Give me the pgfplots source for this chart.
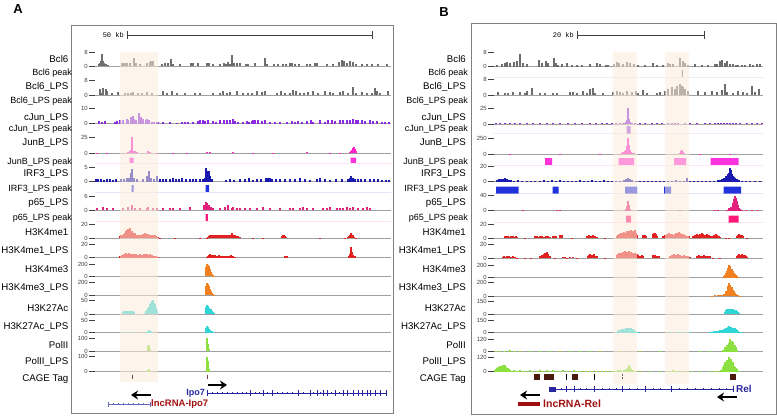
\documentclass[border=0pt]{standalone}
\usepackage{fontspec}
\setmainfont{Liberation Sans}
\setmonofont{Liberation Mono}
\usepackage{pgfplots}
\pgfplotsset{compat=1.18}
\usetikzlibrary{arrows.meta}

\definecolor{cbcl}{HTML}{6E6E6E}
\definecolor{cjun}{HTML}{8A2BE0}
\definecolor{cjunb}{HTML}{FF22CC}
\definecolor{cirf}{HTML}{1A1AB0}
\definecolor{cp65}{HTML}{E0207A}
\definecolor{cme1}{HTML}{E32020}
\definecolor{cme3}{HTML}{F08020}
\definecolor{cac}{HTML}{30D5D5}
\definecolor{cpol}{HTML}{8CE040}
\definecolor{pkjunb}{HTML}{FF33DD}
\definecolor{pkirf}{HTML}{2233DD}
\definecolor{pkp65}{HTML}{FF1A7A}
\definecolor{pkjun}{HTML}{9955DD}
\definecolor{genblue}{HTML}{2626A0}
\definecolor{lncred}{HTML}{A01010}
\definecolor{cage}{HTML}{4A1A10}
\definecolor{shade}{HTML}{FCECDC}
\definecolor{frame}{HTML}{808080}

\pgfplotsset{
  trk/.style={scale only axis, anchor=south west, ymin=0,
    axis x line=bottom, axis y line=left, axis line style={-},
    y axis line style={draw=none},
    x axis line style={draw=gray!75, line width=0.8pt},
    xtick=\empty, scaled y ticks=false,
    tick align=outside, major tick length=6pt,
    ytick style={draw=black!75, line width=1pt},
    yticklabel style={font=\fontsize{6}{6}\selectfont, text=black!75, inner sep=1pt},
    /pgf/number format/assume math mode=true},
  trkA/.style={trk, xmin=95, xmax=391, width=296pt},
  trkB/.style={trk, xmin=494, xmax=763, width=269pt},
}
% #1 x0, #2 style, #3 baseline (px from top), #4 height, #5 ymax, #6 colour, #7 data
\newcommand\trk[7]{%
  \begin{axis}[#2, at={(#1pt,-#3pt)}, height=#4pt, ymax=#5, ytick={0,#5}]
    \addplot[ycomb, draw=#6, line width=1.1pt] coordinates {#7};
  \end{axis}}
% peak boxes: #1 x0, #2 style, #3 bottom, #4 height, #5 colour, #6 steps
\newcommand\pk[6]{%
  \begin{axis}[#2, hide axis, at={(#1pt,-#3pt)}, height=#4pt, ymin=0, ymax=1]
    \addplot[const plot, fill=#5, draw=none] coordinates {#6} \closedcycle;
  \end{axis}}

\begin{document}
\begin{tikzpicture}
\useasboundingbox (0,0) rectangle (777pt,-416pt);

%% ---------------- panel A ----------------
\trk{95}{trkA}{66}{14}{8}{cbcl}{(99,1)(100,1.5)(101,3)(102,7)(103,3)(104,1.5)(106,1)(108,0.5)(122,2)(123,1.5)(125,2)(127,2)(130,1.5)(134,4.5)(135,2)(136,2)(140,1)(147,2)(150,2.5)(151,3)(153,3)(162,1)(165,1.5)(168,2)(171,4)(173,1)(180,1)(191,2)(192,2)(193,2)(198,1.5)(207,2)(208,2)(209,2)(213,1)(220,1)(224,1.5)(226,1)(228,2.5)(230,1)(232,6.5)(234,2)(237,2)(240,1.5)(246,1)(248,1)(255,1.5)(265,4.5)(267,1)(274,1)(278,1)(283,1)(286,1)(290,1.5)(292,1.5)(295,1)(299,1)(307,1)(310,1)(315,1.5)(317,1.5)(327,1)(333,1)(339,2.5)(342,3.5)(344,3)(347,2)(350,3)(353,2.5)(356,1)(362,1)(367,1)(372,1)(378,1)(387,1)}
\trk{95}{trkA}{95}{15}{8}{cbcl}{(100,3)(102,1)(103,3.5)(106,3)(107,2)(112,1)(118,1.5)(125,1)(128,1)(131,1)(133,1.5)(138,1)(142,1)(147,1.5)(152,1)(163,2)(167,1)(172,2)(177,1)(185,1)(195,1)(200,1)(213,1)(220,1)(223,2)(227,1)(230,1.5)(237,2)(243,1)(248,1)(252,1)(257,2)(262,1.5)(265,2)(277,1)(281,2)(285,1)(290,1)(293,2.5)(296,2)(300,1)(304,1)(308,1.5)(313,2)(318,1)(325,2)(330,1.5)(333,1)(340,1.5)(343,2)(348,1)(353,4.5)(356,1)(362,1.5)(367,1)(372,1)(375,4)(377,2)(380,1)(388,2)}
\trk{95}{trkA}{123.5}{15.5}{10}{cjun}{(99,1.5)(102,1)(105,1.5)(115,1)(117,1.5)(120,2)(123,2)(127,3)(128,2)(131,4.5)(133,5)(134,3)(136,2)(139,7)(141,4)(143,3)(146,2.5)(147,3)(149,2)(152,1)(154,1)(157,1)(158,1)(163,1)(170,1)(177,0.5)(182,1)(185,1)(188,1)(193,1)(198,1.5)(200,2)(203,2)(205,1.5)(208,2)(213,1.5)(216,1)(220,2)(224,2)(227,2)(230,2.5)(233,3)(235,1.5)(238,1)(243,1)(247,1.5)(249,1)(252,1.5)(253,2)(255,2.5)(258,2)(262,1.5)(265,2)(270,1)(275,1)(280,1)(287,1)(292,1.5)(295,1)(298,1.5)(302,1)(307,1.5)(311,2)(313,1)(320,2.5)(325,1)(328,2)(332,2)(335,1.5)(340,2)(343,2.5)(347,2)(350,2.5)(353,3)(356,2)(358,2)(362,2)(365,1.5)(370,2)(373,1.5)(377,1.5)(382,1)(385,1)(389,1)}
\trk{95}{trkA}{153.3}{16}{25}{cjunb}{(97,1)(107,1)(128,2)(130,3)(131,5)(132,25)(133,4)(135,3)(137,2)(148,3)(150,2)(157,1)(173,1)(187,1)(207,2)(210,2)(233,1.5)(253,1)(273,1)(307,1.5)(330,1)(340,1)(350,2)(351,3)(352,5)(353,8)(354,10)(355,6)(356,3)}
\trk{95}{trkA}{181.7}{14}{5}{cirf}{(96,0.8)(98,1)(101,1)(104,0.5)(107,1)(110,1)(113,0.5)(116,1)(121,1)(124,1)(127,1.5)(129,1.5)(131,3)(132,4.5)(134,1.5)(137,1)(143,1)(147,2)(149,4)(151,1.5)(154,1)(157,2)(160,1)(163,1)(166,1)(170,1)(173,1.5)(176,1)(179,1)(182,1.5)(186,1)(190,1)(193,1)(196,1)(200,1)(203,1)(205,1.5)(206,5)(207,4)(208,3)(209,4)(210,2)(212,1)(226,0.5)(230,1)(234,0.5)(240,1)(245,1)(249,1.5)(253,0.5)(257,1)(261,1)(266,1.5)(268,1.5)(270,1.5)(272,1)(276,1)(280,1)(285,1)(290,1)(295,1)(300,1.5)(305,1)(310,0.5)(317,1)(320,1.5)(325,1)(330,0.5)(336,1)(342,1)(348,1)(350,1.5)(351,2)(353,1.5)(355,1)(358,1)(361,1)(365,1)(370,1)(374,1)(378,1)(382,0.5)(386,0.5)(389,0.5)}
\trk{95}{trkA}{210}{14}{6}{cp65}{(97,1)(103,1.5)(107,1)(113,1)(123,1)(128,1.5)(132,2)(135,1)(140,1)(147,1)(148,1.5)(153,1)(157,1)(163,1)(170,1)(173,1)(180,1)(190,1.5)(204,2)(206,3.5)(207,3)(209,2)(211,1.5)(213,1)(220,1)(225,1.5)(228,2)(232,1)(233,1.5)(237,1)(240,1)(245,1)(250,1)(257,1)(263,1.5)(270,1)(280,1)(290,1)(293,1)(300,1)(303,1.5)(307,1)(313,1)(323,1)(327,1)(330,1.5)(337,1)(340,1)(343,1)(347,1.5)(350,1)(353,1.5)(358,1)(363,1)(367,1.5)(370,1)}
\trk{95}{trkA}{238.3}{14.3}{20}{cme1}{(120,3)(121,4)(122,5)(123,4)(124,6)(125,8)(126,10)(127,12)(128,13)(129,11)(130,14)(131,9)(132,10)(133,8)(134,6)(135,7)(136,5)(137,4)(138,5)(139,4)(140,3)(141,4)(142,5)(143,6)(144,5)(145,7)(146,6)(147,5)(148,6)(149,4)(150,5)(151,3)(152,4)(153,5)(154,3)(155,4)(156,3)(157,2)(158,1.5)(160,1)(175,0.5)(200,0.5)(207,1)(208,2)(209,3)(210,4)(211,3)(212,4)(213,5)(214,3)(215,4)(216,3)(217,4)(218,3)(219,5)(220,4)(221,3)(222,4)(223,3)(224,4)(225,3)(226,4)(227,3)(228,5)(229,4)(230,3)(231,5)(232,8)(233,5)(234,3)(235,4)(236,3)(237,2)(238,3)(239,2)(240,1.5)(253,1)(263,1)(282,3)(283,4)(284,5)(285,3)(286,2)(320,0.5)(345,1)(348,2)(349,3)(350,5)(351,7)(352,5)(353,4)(354,2)(356,1)}
\trk{95}{trkA}{257.7}{13.7}{20}{cme1}{(120,2)(121,3)(122,4)(123,3)(124,5)(125,6)(126,7)(127,5)(128,6)(129,7)(130,5)(131,6)(132,4)(133,5)(134,6)(135,4)(136,5)(137,4)(138,3)(139,4)(140,5)(141,4)(142,3)(143,4)(144,5)(145,6)(146,4)(147,5)(148,3)(149,4)(150,5)(151,3)(152,4)(153,3)(154,2)(155,3)(156,2)(158,1)(207,1)(208,3)(209,4)(210,5)(211,4)(212,3)(213,4)(214,3)(215,4)(216,3)(217,2)(218,3)(219,4)(220,3)(221,2)(222,3)(223,2)(224,3)(225,2)(226,3)(227,2)(228,3)(229,2)(230,3)(231,4)(232,3)(233,2)(235,1)(285,2)(286,3)(287,2)(349,3)(350,5)(351,15)(352,8)(353,4)(354,3)(355,2)}
\trk{95}{trkA}{276}{12}{200}{cme3}{(206,150)(207,200)(208,190)(209,160)(210,110)(211,70)(212,40)(213,20)(214,8)}
\trk{95}{trkA}{295}{12.3}{200}{cme3}{(206,140)(207,195)(208,180)(209,150)(210,100)(211,60)(212,30)(213,15)(214,5)}
\trk{95}{trkA}{314}{14}{50}{cac}{(123,8)(124,10)(125,12)(126,10)(127,11)(128,12)(129,10)(130,12)(131,11)(132,9)(133,10)(134,6)(145,5)(146,10)(147,15)(148,20)(149,25)(150,35)(151,40)(152,45)(153,50)(154,40)(155,35)(156,20)(157,10)(206,25)(207,33)(208,30)(209,20)(210,15)(211,18)(212,12)(213,8)(214,4)}
\trk{95}{trkA}{332.5}{12.5}{50}{cac}{(122,1)(125,1.5)(130,1)(134,1.5)(147,3)(148,6)(149,10)(150,8)(151,5)(152,3)(206,20)(207,28)(208,22)(209,15)(210,12)(211,8)(212,5)(213,3)}
\trk{95}{trkA}{351}{12.3}{100}{cpol}{(148,40)(149,45)(150,20)(207,110)(208,60)(209,20)}
\trk{95}{trkA}{371.5}{14.8}{100}{cpol}{(148,10)(149,15)(207,100)(208,70)(209,20)}
\pk{95}{trkA}{163}{5.5}{pkjunb}{(95,0)(129.5,1)(133.5,0)(350.5,1)(356,0)(391,0)}
\pk{95}{trkA}{192}{7}{pkirf}{(95,0)(131.5,1)(133.5,0)(205.5,1)(209,0)(391,0)}
\pk{95}{trkA}{221}{7}{pkp65}{(95,0)(205.5,1)(207.8,0)(391,0)}

%% ---------------- panel B ----------------
\trk{494}{trkB}{66.5}{14.3}{8}{cbcl}{(497,1)(502,1.5)(505,2)(507,2.5)(510,2)(514,2.5)(517,3)(520,7)(523,2)(527,1.5)(539,3.5)(542,2)(546,3)(548,2)(554,4.5)(556,2)(558,1)(562,1.5)(567,2)(572,1)(577,1)(582,1)(590,1.5)(597,2)(600,1.5)(606,1)(608,1)(614,1.5)(617,2.5)(619,2)(623,1.5)(627,2.5)(630,2)(634,1.5)(638,1)(645,1)(653,2)(657,1)(663,1)(668,2)(670,1.5)(673,1.5)(680,5)(683,3)(685,2)(688,1)(695,1.5)(702,1)(708,1)(715,1.5)(717,1.5)(720,3)(722,3.5)(725,2)(727,3)(730,1.5)(733,1.5)(736,1)(738,1)(742,1)(745,1)(750,1.5)(753,1)(757,1.5)(760,1.5)}
\trk{494}{trkB}{95}{15.2}{8}{cbcl}{(498,1.5)(505,1)(508,1)(513,1.5)(520,1.5)(525,1)(527,2)(532,3.5)(540,1)(545,1)(553,1)(557,1)(570,1.5)(573,1.5)(577,1)(583,2)(587,1)(590,3)(593,3.5)(595,1)(603,1)(613,1.5)(617,2)(620,1.5)(623,1)(627,2)(632,1.5)(636,2)(638,1)(643,2.5)(647,1)(657,1)(660,1.5)(665,2)(668,3)(672,4)(675,3)(677,4.5)(680,6)(682,5)(683,4)(685,3)(688,2)(698,2)(705,1.5)(712,2)(717,1.5)(722,2.5)(725,6)(727,1.5)(733,1)(738,2)(743,1.5)(747,1)(752,5)(755,1.5)(759,3)}
\trk{494}{trkB}{124}{15.7}{25}{cjun}{(496,1)(500,1.5)(505,1)(510,1.5)(515,1)(520,1)(527,1)(533,1)(540,1)(547,1)(553,1)(560,1)(568,1)(575,1)(582,1.5)(590,1)(596,1)(602,1)(607,1)(612,1.5)(616,1)(620,1)(623,1.5)(625,2)(626,3)(627,6)(628,25)(629,8)(630,3)(632,1.5)(635,2)(640,1)(645,1)(652,1)(657,1)(662,1)(668,1)(672,1.5)(675,1)(678,1)(685,1)(690,1)(697,1)(705,1)(710,1)(715,1.5)(718,1.5)(721,2)(724,1.5)(727,2)(730,1.5)(733,1.5)(736,1)(740,1)(747,1)(752,1)(757,1)(762,1)}
\trk{494}{trkB}{154}{15.7}{250}{cjunb}{(510,3)(560,3)(600,3)(620,5)(622,10)(623,25)(624,15)(625,40)(626,60)(627,120)(628,250)(629,150)(630,60)(631,30)(632,20)(634,10)(680,15)(681,40)(682,60)(683,30)(684,10)(700,3)(730,3)}
\trk{494}{trkB}{181.7}{15}{20}{cirf}{(497,2)(499,3)(501,4)(503,3)(505,5)(507,3)(509,2)(511,2)(514,1)(518,2)(522,1.5)(527,1)(531,1.5)(535,1)(540,1.5)(544,2)(548,1.5)(552,2.5)(556,1.5)(560,2)(564,1)(568,1.5)(572,1)(576,1.5)(580,2)(584,1)(588,1.5)(592,2)(596,1)(600,1.5)(604,2)(608,1.5)(612,1)(616,1)(620,1.5)(624,2)(626,3)(628,5)(630,3)(632,2)(636,1)(640,1)(644,1.5)(648,1)(652,1)(656,1)(660,1.5)(664,1)(668,1.5)(672,1)(676,2)(680,1.5)(684,1)(687,5)(690,1)(694,1)(698,1)(702,1)(706,1)(710,1)(714,1.5)(718,2)(720,2.5)(722,3)(724,5)(726,7)(728,10)(729,12)(730,18)(731,15)(732,10)(733,8)(734,6)(735,5)(736,4)(737,3)(739,2)(742,1.5)(746,1)(750,1)(755,1)(760,1)}
\trk{494}{trkB}{210.7}{15}{40}{cp65}{(523,2)(557,2)(560,2)(626,5)(627,12)(628,25)(629,15)(630,5)(680,2)(715,3)(718,3)(727,3)(729,6)(731,10)(733,20)(734,30)(735,40)(736,35)(737,25)(738,15)(739,8)(740,5)(742,3)(746,2)(752,2)(758,1)}
\trk{494}{trkB}{238.3}{14}{20}{cme1}{(505,3)(506,2)(507,4)(508,3)(509,2)(511,3)(512,4)(513,3)(514,2)(516,3)(517,2)(525,1)(535,3)(536,4)(537,3)(538,2)(540,3)(541,4)(542,3)(544,2)(546,3)(547,4)(548,3)(550,2)(553,3)(555,4)(556,3)(560,5)(561,4)(562,5)(572,1)(587,3)(588,4)(589,5)(590,4)(591,3)(592,4)(593,5)(594,4)(595,3)(597,2)(605,1)(617,4)(618,5)(619,6)(620,5)(621,7)(622,8)(623,6)(624,9)(625,7)(626,8)(627,10)(628,9)(629,11)(630,8)(631,12)(632,9)(633,10)(634,8)(635,12)(636,7)(637,5)(643,5)(644,4)(645,5)(646,4)(653,6)(654,8)(655,7)(656,6)(657,4)(663,3)(664,4)(665,5)(666,4)(667,6)(668,5)(669,7)(670,6)(671,5)(672,6)(673,4)(674,5)(675,6)(676,7)(677,5)(678,8)(679,9)(680,7)(681,6)(682,5)(683,6)(684,4)(685,5)(686,4)(687,3)(688,4)(689,3)(693,3)(694,4)(695,5)(696,4)(697,6)(698,5)(699,4)(700,6)(701,5)(702,8)(703,6)(704,5)(705,4)(706,5)(707,6)(708,4)(709,5)(710,3)(712,4)(714,5)(715,4)(716,6)(717,5)(718,4)(719,3)(720,2)(726,1)(729,1)(737,4)(738,5)(739,6)(740,5)(741,4)(742,5)(743,3)(747,1)}
\trk{494}{trkB}{258.3}{14}{20}{cme1}{(503,2)(504,3)(505,2)(507,3)(508,4)(509,3)(511,2)(513,3)(515,2)(517,1)(525,1)(531,1)(540,3)(541,4)(542,5)(543,4)(544,6)(545,7)(546,8)(547,9)(548,6)(549,4)(550,3)(555,1)(563,2)(565,2)(567,1)(570,2)(573,2)(577,1)(588,4)(589,5)(590,6)(591,5)(592,4)(593,5)(594,6)(595,4)(597,3)(605,1)(617,5)(618,6)(619,7)(620,6)(621,8)(622,7)(623,9)(624,8)(625,10)(626,8)(627,9)(628,7)(629,10)(630,8)(631,9)(632,7)(633,8)(634,6)(635,7)(636,5)(637,6)(638,5)(640,4)(642,5)(643,4)(653,5)(654,4)(655,5)(657,4)(659,3)(670,3)(671,4)(672,5)(673,4)(674,6)(675,5)(676,4)(677,5)(678,6)(679,4)(680,5)(682,4)(684,5)(686,4)(688,3)(690,2)(697,3)(698,4)(699,5)(700,4)(701,3)(702,4)(704,5)(705,4)(707,3)(709,4)(710,3)(713,1)(720,1)(737,4)(738,5)(739,6)(740,5)(741,4)(742,6)(743,5)(744,4)(745,5)(746,3)(747,2)}
\trk{494}{trkB}{277.5}{12.5}{200}{cme3}{(724,20)(725,40)(726,70)(727,100)(728,150)(729,200)(730,180)(731,120)(732,140)(733,100)(734,80)(735,60)(736,40)(737,20)(738,10)}
\trk{494}{trkB}{296}{13.3}{200}{cme3}{(712,5)(715,8)(718,10)(720,8)(722,15)(724,30)(726,80)(728,150)(729,200)(730,170)(731,120)(732,140)(733,90)(734,70)(735,50)(736,30)(737,15)(738,8)(740,5)}
\trk{494}{trkB}{314}{12.3}{150}{cac}{(725,30)(726,50)(727,60)(728,55)(729,65)(730,50)(731,60)(732,55)(733,60)(734,50)(735,40)(736,45)(737,35)(738,20)(739,10)}
\trk{494}{trkB}{332.7}{12.7}{150}{cac}{(617,10)(618,20)(619,30)(620,25)(621,35)(622,40)(623,30)(624,45)(625,35)(626,50)(627,40)(628,55)(629,45)(630,60)(631,50)(632,40)(633,45)(634,30)(635,20)(636,10)(638,5)(670,3)(678,4)(685,3)(690,3)(710,5)(712,10)(714,15)(716,20)(718,25)(720,30)(722,35)(724,40)(726,50)(727,60)(728,70)(729,80)(730,60)(731,70)(732,50)(733,60)(734,45)(735,50)(736,40)(737,30)(738,20)(739,10)(741,5)}
\trk{494}{trkB}{351.7}{12.7}{120}{cpol}{(496,5)(500,10)(505,8)(510,15)(515,8)(520,5)(530,10)(540,5)(550,5)(560,8)(570,5)(580,5)(590,5)(600,5)(620,8)(640,5)(660,5)(680,5)(700,5)(710,8)(723,20)(725,40)(727,60)(728,50)(729,80)(730,120)(731,70)(732,100)(733,90)(734,50)(735,60)(736,40)(737,20)}
\trk{494}{trkB}{371.7}{14.4}{120}{cpol}{(495,15)(496,25)(497,30)(498,40)(499,35)(500,45)(501,50)(502,40)(503,55)(504,45)(505,60)(506,40)(507,35)(508,30)(509,20)(510,15)(512,10)(514,15)(516,10)(518,8)(520,12)(523,8)(526,10)(530,15)(533,8)(537,10)(540,12)(543,8)(547,15)(550,10)(553,12)(557,8)(560,10)(563,12)(567,8)(570,10)(574,12)(577,8)(580,10)(584,6)(588,8)(592,10)(596,6)(600,8)(604,5)(608,6)(612,8)(615,10)(618,15)(620,12)(622,10)(624,15)(626,20)(628,30)(629,60)(630,40)(631,20)(633,15)(635,10)(640,5)(650,5)(660,6)(667,10)(670,8)(673,12)(676,8)(680,10)(684,8)(688,10)(692,5)(700,5)(710,8)(715,10)(718,8)(721,12)(723,40)(724,60)(725,80)(726,50)(727,100)(728,70)(729,120)(730,90)(731,110)(732,60)(733,80)(734,50)(735,40)(736,30)(737,20)(739,10)}
\pk{494}{trkB}{77}{7}{cbcl}{(494,0)(681.8,1)(682.8,0)(763,0)}
\pk{494}{trkB}{133.5}{7.5}{pkjun}{(494,0)(626.5,1)(630.5,0)(763,0)}
\pk{494}{trkB}{165}{7}{pkjunb}{(494,0)(545,1)(552,0)(618.5,1)(634,0)(674,1)(686,0)(710.5,1)(738.5,0)(763,0)}
\pk{494}{trkB}{193.5}{7}{pkirf}{(494,0)(496,1)(518.5,0)(552.5,1)(558.5,0)(625,1)(637,0)(664,1)(671,0)(723.5,1)(741,0)(763,0)}
\pk{494}{trkB}{222.5}{7}{pkp65}{(494,0)(626,1)(631,0)(728.5,1)(738.5,0)(763,0)}

%% ---------------- highlights, CAGE, genes ----------------
\begin{axis}[scale only axis, hide axis, width=777pt, height=416pt,
  at={(0pt,0pt)}, anchor=north west, xmin=0, xmax=777, ymin=0, ymax=416,
  y dir=reverse, clip=false]
  \addplot[fill=shade, draw=none, fill opacity=0.55] coordinates {(120,52)(158,52)(158,382)(120,382)} -- cycle;
  \addplot[fill=shade, draw=none, fill opacity=0.55] coordinates {(613,52)(637,52)(637,384)(613,384)} -- cycle;
  \addplot[fill=shade, draw=none, fill opacity=0.55] coordinates {(665,52)(689,52)(689,384)(665,384)} -- cycle;
  % CAGE tags
  \addplot[only marks, mark=|, mark size=2.3pt, draw=cage!80, mark options={line width=0.8pt}] coordinates {(132,377)(207,377)};
  \addplot[only marks, mark=square*, mark size=2.6pt, cage] coordinates {(537,376.5)(546.5,376.5)(550.5,376.5)(575,376.5)(733,376.5)};
  \addplot[only marks, mark=|, mark size=3pt, black, mark options={line width=0.9pt}] coordinates {(566,376.5)(594,376.5)};
  \addplot[only marks, mark=|, mark size=3pt, black!60, mark options={line width=0.6pt, densely dotted}] coordinates {(622,376.5)};
  % Ipo7
  \addplot[genblue, line width=0.7pt] coordinates {(207,393)(387,393)};
  \addplot[only marks, mark=|, mark size=1.2pt, genblue, mark options={line width=0.5pt}] coordinates {(212,393)(217,393)(222,393)(227,393)(232,393)(237,393)(242,393)(246,393)(255,393)(259,393)(267,393)(277,393)(282,393)(287,393)(292,393)(303,393)(313,393)(320,393)(331,393)(339,393)};
  \addplot[only marks, mark=|, mark size=2.8pt, genblue, mark options={line width=0.9pt}] coordinates {(207,393)(250,393)(263,393)(272,393)(298,393)(310,393)(317,393)(323,393)(327,393)(335,393)(343,393)(347,393)(353,393)(358,393)(362,393)(367,393)(370,393)(375,393)(380,393)(386,393)};
  % lncRNA-Ipo7
  \addplot[genblue!70, line width=0.7pt] coordinates {(108,404)(150,404)};
  \addplot[only marks, mark=|, mark size=1.2pt, genblue!70, mark options={line width=0.5pt}] coordinates {(113,404)(118,404)(123,404)(128,404)(133,404)(138,404)(143,404)};
  \addplot[only marks, mark=|, mark size=2.5pt, genblue!70, mark options={line width=0.8pt}] coordinates {(108,404)(150,404)};
  \addplot[black, line width=2.4pt, -{Stealth[length=7pt,width=9pt]}] coordinates {(208,385)(227,385)};
  \addplot[black, line width=2.4pt, -{Stealth[length=7pt,width=9pt]}] coordinates {(151,395)(131,395)};
  % Rel
  \addplot[genblue, line width=0.7pt] coordinates {(549,389)(733,389)};
  \addplot[genblue, line width=5pt] coordinates {(549,389)(556,389)};
  \addplot[only marks, mark=|, mark size=1.2pt, genblue, mark options={line width=0.5pt}] coordinates {(561,389)(580,389)(586,389)(602,389)(609,389)(616,389)(629,389)(637,389)(653,389)(660,389)(679,389)(687,389)(695,389)(703,389)(711,389)(719,389)(726,389)};
  \addplot[only marks, mark=|, mark size=2.8pt, genblue, mark options={line width=0.9pt}] coordinates {(566,389)(574,389)(594,389)(622,389)(645,389)(671,389)(733,389)};
  \addplot[lncred, line width=4pt] coordinates {(518,403.5)(540,403.5)};
  \addplot[black, line width=2.4pt, -{Stealth[length=7pt,width=9pt]}] coordinates {(540,395)(520,395)};
  \addplot[black, line width=2.4pt, -{Stealth[length=7pt,width=9pt]}] coordinates {(737,397)(717,397)};
\end{axis}

\begin{scope}[x=1pt,y=-1pt]
  % frames
  \draw[frame, line width=1pt] (71,25) rectangle (393,413);
  \draw[frame, line width=1pt] (471.5,23) rectangle (776,414.5);
  \node[font=\fontsize{13}{13}\selectfont\bfseries] at (18,9) {A};
  \node[font=\fontsize{13}{13}\selectfont\bfseries] at (444,12) {B};
  % scale bars
  \node[anchor=east, font=\ttfamily\fontsize{7}{7}\selectfont, inner sep=0] at (124,35) {50 kb};
  \draw[black!75, line width=0.7pt] (127,35) -- (372,35) (127,31) -- (127,39) (372,31) -- (372,39);
  \node[anchor=east, font=\ttfamily\fontsize{7}{7}\selectfont, inner sep=0] at (574,35) {20 kb};
  \draw[black!75, line width=0.7pt] (577,35) -- (704,35) (577,31) -- (577,39) (704,31) -- (704,39);
  % track names
  \foreach \xr/\xp in {68.5/72, 466/468}{
    \foreach \y/\t in {59/Bcl6, 87/Bcl6\_LPS, 118/cJun\_LPS, 143.5/JunB\_LPS, 174/IRF3\_LPS, 202.7/p65\_LPS, 231.7/H3K4me1, 250.7/H3K4me1\_LPS, 269.5/H3K4me3, 288.3/H3K4me3\_LPS, 308.5/H3K27Ac, 327.5/H3K27Ac\_LPS, 345/PolII, 362/PolII\_LPS, 379.5/CAGE Tag}
      \node[anchor=east, inner sep=0, font=\fontsize{9.7}{9.7}\selectfont] at (\xr,\y) {\t};
    \foreach \y/\t in {73/Bcl6 peak, 101/Bcl6\_LPS peak, 129/cJun\_LPS peak, 161.7/JunB\_LPS peak, 189.3/IRF3\_LPS peak, 218.3/p65\_LPS peak}
      \node[anchor=east, inner sep=0, font=\fontsize{9}{9}\selectfont] at (\xp,\y) {\t};
  }
  % gene names
  \node[anchor=east, inner sep=0, text=genblue, font=\bfseries\fontsize{9}{9}\selectfont] at (205,393) {Ipo7};
  \node[anchor=west, inner sep=0, text=lncred, font=\bfseries\fontsize{9.5}{9.5}\selectfont] at (151,404) {lncRNA-Ipo7};
  \node[anchor=west, inner sep=0, text=genblue, font=\bfseries\fontsize{10}{10}\selectfont] at (736,388.5) {Rel};
  \node[anchor=west, inner sep=0, text=lncred, font=\bfseries\fontsize{10.5}{10.5}\selectfont] at (543,404) {lncRNA-Rel};
\end{scope}
\end{tikzpicture}
\end{document}
